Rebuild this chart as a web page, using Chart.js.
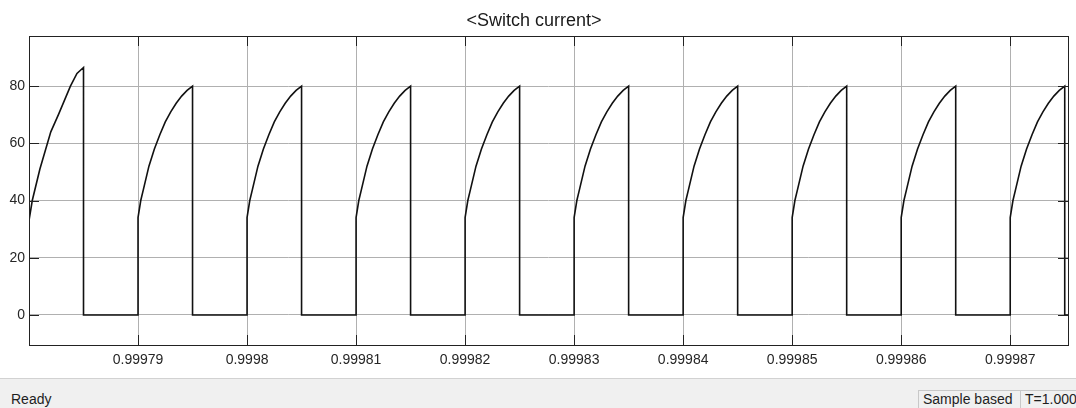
<!DOCTYPE html>
<html>
<head>
<meta charset="utf-8">
<script src="https://cdn.jsdelivr.net/npm/chart.js@4.4.1/dist/chart.umd.min.js"></script>
<style>
  html, body { margin: 0; padding: 0; background: #ffffff; }
  #wrap { position: relative; width: 1076px; height: 408px; overflow: hidden; font-family: "Liberation Sans", Arial, sans-serif; }
  #c { position: absolute; left: 0; top: 0; }
  #status { position: absolute; left: 0; top: 378px; width: 1076px; height: 30px; background: #f0f0f0; border-top: 1px solid #d2d2d2; box-sizing: border-box; font-size: 14px; color: #1e1e1e; }
  #ready { position: absolute; left: 11px; top: 12px; line-height: 16px; }
  .box { position: absolute; top: 11px; height: 19px; border: 1px solid #c8c8c8; box-sizing: border-box; line-height: 17px; padding-left: 4px; }
</style>
</head>
<body>
<div id="wrap">
  <canvas id="c" width="1076" height="378"></canvas>
  <div id="status">
    <span id="ready">Ready</span>
    <span class="box" style="left:918px;width:103px;">Sample based</span>
    <span class="box" style="left:1020px;width:60px;">T=1.000</span>
  </div>
</div>
<script>
// ---- Data ----
const titleText = '<Switch current>';
const T0 = 0.99978;            // time at left edge of plot (s)
const xMin = 0.99978;
const xMax = 0.9998753;
const yMin = -10.5;
const yMax = 97.5;

// time in microseconds after T0
const timeUs = [
  0, 0.3, 1.0, 2.0, 2.7, 3.8, 4.4, 5.0, 5.0,
  10, 10, 10.25, 10.5, 11, 11.5, 12, 12.5, 13, 13.5, 14, 14.5, 15, 15,
  20, 20, 20.25, 20.5, 21, 21.5, 22, 22.5, 23, 23.5, 24, 24.5, 25, 25,
  30, 30, 30.25, 30.5, 31, 31.5, 32, 32.5, 33, 33.5, 34, 34.5, 35, 35,
  40, 40, 40.25, 40.5, 41, 41.5, 42, 42.5, 43, 43.5, 44, 44.5, 45, 45,
  50, 50, 50.25, 50.5, 51, 51.5, 52, 52.5, 53, 53.5, 54, 54.5, 55, 55,
  60, 60, 60.25, 60.5, 61, 61.5, 62, 62.5, 63, 63.5, 64, 64.5, 65, 65,
  70, 70, 70.25, 70.5, 71, 71.5, 72, 72.5, 73, 73.5, 74, 74.5, 75, 75,
  80, 80, 80.25, 80.5, 81, 81.5, 82, 82.5, 83, 83.5, 84, 84.5, 85, 85,
  90, 90, 90.25, 90.5, 91, 91.5, 92, 92.5, 93, 93.5, 94, 94.5, 95, 95, 95.3
];
// switch current (A)
const currentA = [
  33, 40, 51, 64, 70, 80, 84.4, 86.5, 0,
  0, 34, 40, 44, 52, 58, 63, 67.5, 71, 74, 76.5, 78.5, 80, 0,
  0, 34, 40, 44, 52, 58, 63, 67.5, 71, 74, 76.5, 78.5, 80, 0,
  0, 34, 40, 44, 52, 58, 63, 67.5, 71, 74, 76.5, 78.5, 80, 0,
  0, 34, 40, 44, 52, 58, 63, 67.5, 71, 74, 76.5, 78.5, 80, 0,
  0, 34, 40, 44, 52, 58, 63, 67.5, 71, 74, 76.5, 78.5, 80, 0,
  0, 34, 40, 44, 52, 58, 63, 67.5, 71, 74, 76.5, 78.5, 80, 0,
  0, 34, 40, 44, 52, 58, 63, 67.5, 71, 74, 76.5, 78.5, 80, 0,
  0, 34, 40, 44, 52, 58, 63, 67.5, 71, 74, 76.5, 78.5, 80, 0,
  0, 34, 40, 44, 52, 58, 63, 67.5, 71, 74, 76.5, 78.5, 80, 0, 0
];

const xTickValues = [0.99979, 0.9998, 0.99981, 0.99982, 0.99983, 0.99984, 0.99985, 0.99986, 0.99987];
const xTickLabels = ['0.99979', '0.9998', '0.99981', '0.99982', '0.99983', '0.99984', '0.99985', '0.99986', '0.99987'];
const yTickValues = [0, 20, 40, 60, 80];
const yTickLabels = ['0', '20', '40', '60', '80'];

// ---- Build points ----
const points = timeUs.map((us, i) => ({ x: T0 + us * 1e-6, y: currentA[i] }));

const FONT = "'Liberation Sans', Arial, sans-serif";
const FRAME = '#222222';

const frameAndTicks = {
  id: 'frameAndTicks',
  afterDatasetsDraw(chart) {
    const { ctx, chartArea: a, scales } = chart;
    const L = 10;
    ctx.save();
    ctx.strokeStyle = FRAME;
    ctx.lineWidth = 1;
    ctx.beginPath();
    xTickValues.forEach(v => {
      const px = Math.round(scales.x.getPixelForValue(v)) + 0.5;
      ctx.moveTo(px, a.top); ctx.lineTo(px, a.top + L);
      ctx.moveTo(px, a.bottom); ctx.lineTo(px, a.bottom - L);
    });
    yTickValues.forEach(v => {
      const py = Math.round(scales.y.getPixelForValue(v)) + 0.5;
      ctx.moveTo(a.left, py); ctx.lineTo(a.left + L, py);
      ctx.moveTo(a.right, py); ctx.lineTo(a.right - L, py);
    });
    ctx.stroke();
    ctx.strokeRect(Math.round(a.left) + 0.5, Math.round(a.top) + 0.5,
                   Math.round(a.right - a.left), Math.round(a.bottom - a.top));
    ctx.restore();
  }
};

new Chart(document.getElementById('c'), {
  type: 'line',
  data: {
    datasets: [{
      label: 'Switch current',
      data: points,
      borderColor: '#111111',
      borderWidth: 1.6,
      pointRadius: 0,
      tension: 0,
      fill: false
    }]
  },
  options: {
    responsive: false,
    animation: false,
    parsing: false,
    layout: { padding: { left: 0, right: 8, top: 0, bottom: 0 } },
    plugins: {
      legend: { display: false },
      tooltip: { enabled: false },
      title: {
        display: true,
        text: titleText,
        color: '#1a1a1a',
        font: { family: FONT, size: 18, weight: 'normal', lineHeight: 1.2 },
        padding: { top: 10.4, bottom: 4 }
      }
    },
    scales: {
      x: {
        type: 'linear',
        min: xMin,
        max: xMax,
        afterBuildTicks: axis => { axis.ticks = xTickValues.map(v => ({ value: v })); },
        afterFit: axis => { axis.height = 33; },
        ticks: {
          autoSkip: false,
          maxRotation: 0,
          padding: 7,
          color: '#262626',
          font: { family: FONT, size: 14 },
          callback: (value, index) => xTickLabels[index]
        },
        grid: { color: '#b0b0b0', lineWidth: 1, drawTicks: false },
        border: { display: false }
      },
      y: {
        type: 'linear',
        min: yMin,
        max: yMax,
        afterBuildTicks: axis => { axis.ticks = yTickValues.map(v => ({ value: v })); },
        afterFit: axis => { axis.width = 29; },
        ticks: {
          padding: 4,
          color: '#262626',
          font: { family: FONT, size: 14 },
          callback: (value, index) => yTickLabels[index]
        },
        grid: { color: '#b0b0b0', lineWidth: 1, drawTicks: false },
        border: { display: false }
      }
    }
  },
  plugins: [frameAndTicks]
});
</script>
</body>
</html>
